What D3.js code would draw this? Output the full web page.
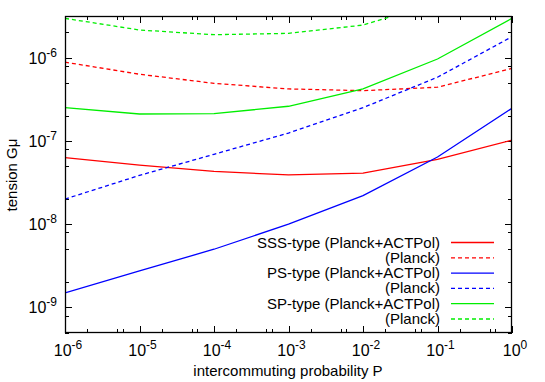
<!DOCTYPE html>
<html>
<head>
<meta charset="utf-8">
<script src="https://d3js.org/d3.v7.min.js"></script>
<style>
  body { margin: 0; background: #fff; }
  text { font-family: "Liberation Sans", Arial, sans-serif; }
</style>
</head>
<body>
<script>
var probs = [1e-6, 1e-5, 1e-4, 1e-3, 1e-2, 1e-1, 1];

var sssBoth = [6.3e-8, 5.1e-8, 4.3e-8, 3.9e-8, 4.1e-8, 6.0e-8, 1.02e-7];
var sssPlanck = [8.8e-7, 6.3e-7, 4.9e-7, 4.2e-7, 4.0e-7, 4.4e-7, 7.4e-7];
var psBoth = [1.5e-9, 2.75e-9, 5.0e-9, 1.0e-8, 2.2e-8, 6.4e-8, 2.46e-7];
var psPlanck = [2.0e-8, 3.85e-8, 6.9e-8, 1.24e-7, 2.5e-7, 5.8e-7, 1.78e-6];
var spBoth = [2.5e-7, 2.1e-7, 2.12e-7, 2.6e-7, 4.2e-7, 9.6e-7, 2.95e-6];
var spPlanck = [2.95e-6, 2.14e-6, 1.88e-6, 1.95e-6, 2.45e-6, 4.6e-6, 9e-6];

var legendLabels = ['SSS-type (Planck+ACTPol)', '(Planck)', 'PS-type (Planck+ACTPol)',
  '(Planck)', 'SP-type (Planck+ACTPol)', '(Planck)'];

var xExps = [-6, -5, -4, -3, -2, -1, 0];
var yExps = [-9, -8, -7, -6];

var series = [
  { values: sssBoth, color: '#ff0000', dash: null },
  { values: sssPlanck, color: '#ff0000', dash: '4,3' },
  { values: psBoth, color: '#0000ff', dash: null },
  { values: psPlanck, color: '#0000ff', dash: '4,3' },
  { values: spBoth, color: '#00ee00', dash: null },
  { values: spPlanck, color: '#00ee00', dash: '4,3' }
];

var width = 545, height = 382;
var margin = { top: 16, right: 33, bottom: 49, left: 65 };

var x = d3.scaleLog()
  .domain([1e-6, 1])
  .range([margin.left, width - margin.right]);

var y = d3.scaleLog()
  .domain([4.94e-10, 3.15e-6])
  .range([height - margin.bottom, margin.top]);

var svg = d3.select('body').append('svg')
  .attr('width', width)
  .attr('height', height);

svg.append('defs').append('clipPath')
  .attr('id', 'plot')
  .append('rect')
  .attr('x', margin.left)
  .attr('y', margin.top)
  .attr('width', width - margin.left - margin.right)
  .attr('height', height - margin.top - margin.bottom);

// minor ticks as seen in the picture
var xMinor = [];
xExps.slice(0, -1).forEach(function(e) {
  [2, 5, 6].forEach(function(m) { xMinor.push(m * Math.pow(10, e)); });
});
var yMinor = [];
[-10, -9, -8, -7, -6].forEach(function(e) {
  [2, 5, 8].forEach(function(m) {
    var v = m * Math.pow(10, e);
    if (v > y.domain()[0] && v < y.domain()[1]) yMinor.push(v);
  });
});
var xMajor = xExps.map(function(e) { return Math.pow(10, e); });
var yMajor = yExps.map(function(e) { return Math.pow(10, e); });

var x0 = margin.left, x1 = width - margin.right;
var y0 = height - margin.bottom, y1 = margin.top;
var ticks = svg.append('g').attr('stroke', '#000').attr('stroke-width', 1);

function xTick(v, len) {
  var px = Math.round(x(v)) + 0.5;
  ticks.append('line').attr('x1', px).attr('x2', px).attr('y1', y0).attr('y2', y0 - len);
  ticks.append('line').attr('x1', px).attr('x2', px).attr('y1', y1).attr('y2', y1 + len);
}
function yTick(v, len) {
  var py = Math.round(y(v)) + 0.5;
  ticks.append('line').attr('x1', x0).attr('x2', x0 + len).attr('y1', py).attr('y2', py);
  ticks.append('line').attr('x1', x1).attr('x2', x1 - len).attr('y1', py).attr('y2', py);
}
xMajor.forEach(function(v) { xTick(v, 7); });
xMinor.forEach(function(v) { xTick(v, 4); });
yMajor.forEach(function(v) { yTick(v, 7); });
yMinor.forEach(function(v) { yTick(v, 4); });

var line = d3.line()
  .x(function(d, i) { return x(probs[i]); })
  .y(function(d) { return y(d); });

svg.append('g')
  .attr('clip-path', 'url(#plot)')
  .selectAll('path')
  .data(series)
  .enter()
  .append('path')
  .attr('d', function(s) { return line(s.values); })
  .attr('fill', 'none')
  .attr('stroke', function(s) { return s.color; })
  .attr('stroke-width', 1.3)
  .attr('stroke-dasharray', function(s) { return s.dash; });

// frame
svg.append('rect')
  .attr('x', x0 + 0.5)
  .attr('y', y1 + 0.5)
  .attr('width', x1 - x0 - 1)
  .attr('height', y0 - y1 - 1)
  .attr('fill', 'none')
  .attr('stroke', '#000')
  .attr('stroke-width', 1.3);

// tick labels with exponent
function power(g, e) {
  g.append('tspan').text('10');
  g.append('tspan').attr('dy', -7).attr('font-size', 12).text(e);
}

svg.append('g')
  .selectAll('text')
  .data(xExps)
  .enter()
  .append('text')
  .attr('x', function(e) { return x(Math.pow(10, e)) + 3; })
  .attr('y', 356)
  .attr('text-anchor', 'middle')
  .attr('font-size', 16)
  .each(function(e) { power(d3.select(this), e); });

svg.append('g')
  .selectAll('text')
  .data(yExps)
  .enter()
  .append('text')
  .attr('x', 57)
  .attr('y', function(e) { return y(Math.pow(10, e)) + 6; })
  .attr('text-anchor', 'end')
  .attr('font-size', 16)
  .each(function(e) { power(d3.select(this), e); });

svg.append('text')
  .attr('x', 288)
  .attr('y', 376)
  .attr('text-anchor', 'middle')
  .attr('font-size', 15)
  .text('intercommuting probability P');

svg.append('text')
  .attr('transform', 'translate(17,175) rotate(-90)')
  .attr('text-anchor', 'middle')
  .attr('font-size', 15)
  .text('tension G\u03bc');

// legend
var legend = svg.append('g')
  .selectAll('g')
  .data(series)
  .enter()
  .append('g')
  .attr('transform', function(s, i) { return 'translate(0,' + (242.5 + i * 15.3) + ')'; });

legend.append('text')
  .attr('x', 440)
  .attr('y', 5)
  .attr('text-anchor', 'end')
  .attr('font-size', 15)
  .text(function(s, i) { return legendLabels[i]; });

legend.append('line')
  .attr('x1', 451)
  .attr('x2', 494)
  .attr('y1', 0)
  .attr('y2', 0)
  .attr('stroke', function(s) { return s.color; })
  .attr('stroke-width', 1.3)
  .attr('stroke-dasharray', function(s) { return s.dash; });
</script>
</body>
</html>
